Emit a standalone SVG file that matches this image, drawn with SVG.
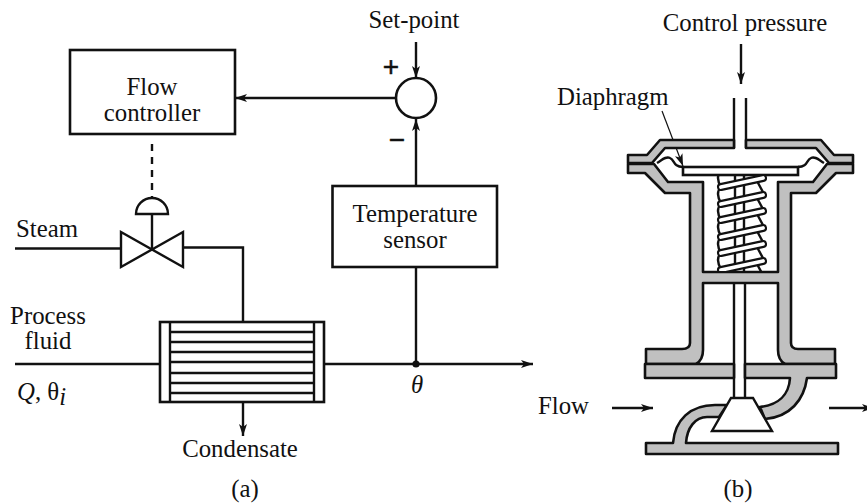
<svg xmlns="http://www.w3.org/2000/svg" xmlns:xlink="http://www.w3.org/1999/xlink" width="867" height="503" viewBox="0 0 867 503">
<style>
text{font-family:"Liberation Serif","Times New Roman",serif;font-size:24.800px;fill:#111}
.m{text-anchor:middle}
.i{font-style:italic}
.l{fill:none;stroke:#111;stroke-width:2.400}
.a{marker-end:url(#arr)}
.b{fill:#fff;stroke:#111;stroke-width:2.600}
.g{fill:#c0c0c0;stroke:#111;stroke-width:2.600;stroke-linejoin:round}
.w{fill:#fff;stroke:#111;stroke-width:2.400}
.sk{fill:none;stroke:#111;stroke-width:8;stroke-linecap:round}
.sw{fill:none;stroke:#fff;stroke-width:3.800;stroke-linecap:round}
.s{font-family:"Liberation Sans",Arial,sans-serif;font-size:28px;stroke:#111;stroke-width:.5}
</style>
<defs>
<marker id="arr" markerUnits="userSpaceOnUse" markerWidth="16" markerHeight="12" refX="12" refY="6" orient="auto">
<path d="M0,2 L12,6 L0,10 L3,6 Z" fill="#111"/>
</marker>
<clipPath id="springClip"><rect x="704" y="176" width="73" height="95"/></clipPath>
<g id="coil">
<path class="l" d="M721,9 Q715,15 721,25 M757,3 L764,16"/>
<path class="sk" d="M721,9 L763,0"/>
<path class="sw" d="M721,9 L763,0"/>
</g>
</defs>
<rect width="867" height="503" fill="#fff"/>

<g id="connectors">
<path class="l a" d="M416,42 V78"/>
<path class="l a" d="M396,98 H235"/>
<path class="l a" d="M416,186 V119"/>
<path class="l" d="M152,144 V198" stroke-dasharray="7 6"/>
<path class="l" d="M15,248.500 H121"/>
<path class="l" d="M184,247.500 H243 V322"/>
<path class="l" d="M15,364 H160"/>
<path class="l a" d="M324,364 H533"/>
<path class="l" d="M416,267 V364"/>
<circle cx="416" cy="364" r="3.600" fill="#111"/>
<path class="l a" d="M243,402 V436"/>
<path class="l a" d="M741,44 V84"/>
<path class="l a" d="M612,408 H653"/>
<path class="l a" d="M829,408 H874"/>
<path d="M662,111 L683,166" fill="none" stroke="#111" stroke-width="1.200" marker-end="url(#arr)"/>
</g>

<g id="flow-controller">
<rect class="b" x="70" y="50" width="165" height="84"/>
<text class="m" x="152" y="95">Flow</text>
<text class="m" x="152" y="121">controller</text>
</g>
<g id="summing-junction">
<circle class="b" cx="416" cy="98" r="20"/>
<text class="s m" x="391" y="76">+</text>
<text class="s m" x="397" y="149">−</text>
</g>
<g id="temperature-sensor">
<rect class="b" x="332.500" y="186" width="164.500" height="81"/>
<text class="m" x="415" y="222">Temperature</text>
<text class="m" x="415" y="248">sensor</text>
</g>
<g id="control-valve">
<path class="w" d="M136,214 A16,16 0 0 1 168,214 Z"/>
<path class="l" d="M152,214 V248"/>
<path class="w" d="M121,232 L183,267 V232 L121,267 Z"/>
</g>
<g id="heat-exchanger">
<rect class="b" x="160" y="322" width="164" height="80"/>
<path class="l" d="M170,322 V402 M314,322 V402 M170,332 H314 M170,342 H314 M170,352 H314 M170,362 H314 M170,373 H314 M170,383 H314 M170,393 H314"/>
</g>

<g id="labels-a">
<text class="m" x="414" y="28">Set-point</text>
<text x="16" y="237">Steam</text>
<text class="m" x="48" y="324">Process</text>
<text class="m" x="48" y="349">fluid</text>
<text x="17" y="400"><tspan class="i">Q</tspan>, <tspan>θ</tspan><tspan class="i" dy="5">i</tspan></text>
<text class="m i" x="417" y="393">θ</text>
<text class="m" x="240" y="457">Condensate</text>
<text class="m" x="245" y="497">(a)</text>
</g>

<g id="actuator">
<path class="l" d="M734,98 V148 M746,98 V148"/>
<path class="g" d="M628,155 H647 L660,140 H734 V148 H665 L652,163 H628 Z"/>
<path class="g" d="M853,155 H834 L821,140 H746 V148 H816 L829,163 H853 Z"/>
<path class="g" d="M628,164 V173 H645 L665,193 H690 V343 Q690,349 682,349 H646 V364 H696 Q703,360 703,350 V283 H778 V350 Q778,360 785,364 H835 V349 H798 Q791,349 791,343 V193 H816 L836,173 H853 V164 H827 L813,182 H778 V272 H703 V182 H668 L654,164 Z"/>
<path class="l" d="M657,163 C662,160 666,156 670,158 C675,160 673,167 683,167 M824,163 C819,160 815,156 811,158 C806,160 808,167 798,167"/>
<rect class="b" x="683" y="167" width="115" height="8"/>
<g id="spring" clip-path="url(#springClip)">
<path class="l" d="M735,175 V272 M744,175 V272"/>
<use xlink:href="#coil" href="#coil" y="162"/>
<use xlink:href="#coil" href="#coil" y="178"/>
<use xlink:href="#coil" href="#coil" y="195"/>
<use xlink:href="#coil" href="#coil" y="211"/>
<use xlink:href="#coil" href="#coil" y="228"/>
<use xlink:href="#coil" href="#coil" y="244"/>
<use xlink:href="#coil" href="#coil" y="261"/>
</g>
<path class="l" d="M734,283 V398 M745,283 V398"/>
</g>
<g id="valve-body">
<path class="g" d="M645,364 H734 V378 H645 Z"/>
<path class="g" d="M745,364 H836 V378 H807 C804,400 790,417 765,419 L760,407 C778,405 789,395 790,378 H745 Z"/>
<path class="g" d="M646,443 H673 C675,420 690,405 715,405 H727 L719,417 H707 C695,417 687,428 686,443 H838 V454 H646 Z"/>
<path class="w" d="M731,398 H753 L772,431 H712 Z"/>
</g>
<g id="labels-b">
<text class="m" x="745" y="31">Control pressure</text>
<text x="557" y="105">Diaphragm</text>
<text x="538" y="414">Flow</text>
<text class="m" x="738" y="497">(b)</text>
</g>
</svg>
